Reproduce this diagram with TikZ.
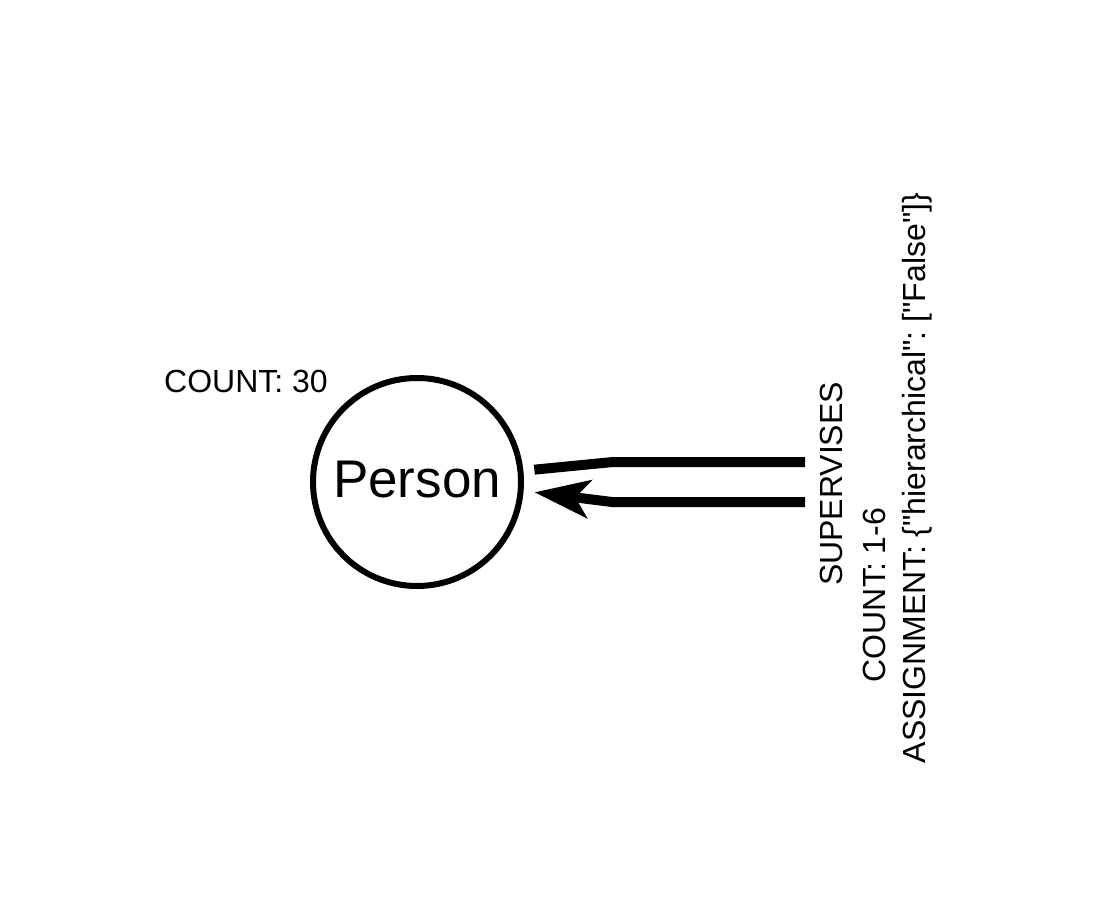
\documentclass[tikz,border=0pt]{standalone}
\usepackage{fontspec}
\setmainfont{Liberation Sans}
\usetikzlibrary{arrows.meta}
\begin{document}
\frenchspacing
\begin{tikzpicture}[x=1pt,y=-1pt,
  nodecircle/.style={circle,draw=black,line width=6pt,minimum size=208pt,inner sep=0pt,outer sep=14pt,
    font=\fontsize{53}{58}\selectfont,text height=38pt,text depth=8pt},
  lbl/.style={font=\fontsize{32}{36}\selectfont,inner sep=0pt},
  rel/.style={line width=10pt,draw=black},
  tip/.style={-{Stealth[length=55pt,width=38pt,inset=14pt]}}]
\useasboundingbox (0,0) rectangle (1106,902);
\node[nodecircle] (p) at (417,482) {Person};
\node[lbl,anchor=base west] (cnt) at (164,392) {COUNT: 30};
\coordinate (t1) at (613,462);
\coordinate (t2) at (805,462);
\coordinate (b1) at (805,502);
\coordinate (b2) at (612,502);
\draw[rel] (p.6.8) -- (t1) -- (t2);
\draw[rel,tip] (b1) -- (b2) -- (p.-5.3);
\node[lbl,rotate=90,anchor=base] (l1) at (842,484) {SUPERVISES};
\node[lbl,rotate=90,anchor=base] (l2) at (885,595) {COUNT: 1-6};
\node[lbl,rotate=90,anchor=base] (l3) at (925,478) {ASSIGNMENT: \{\textquotedbl hierarchical\textquotedbl: [\textquotedbl False\textquotedbl]\}};
\end{tikzpicture}
\end{document}
